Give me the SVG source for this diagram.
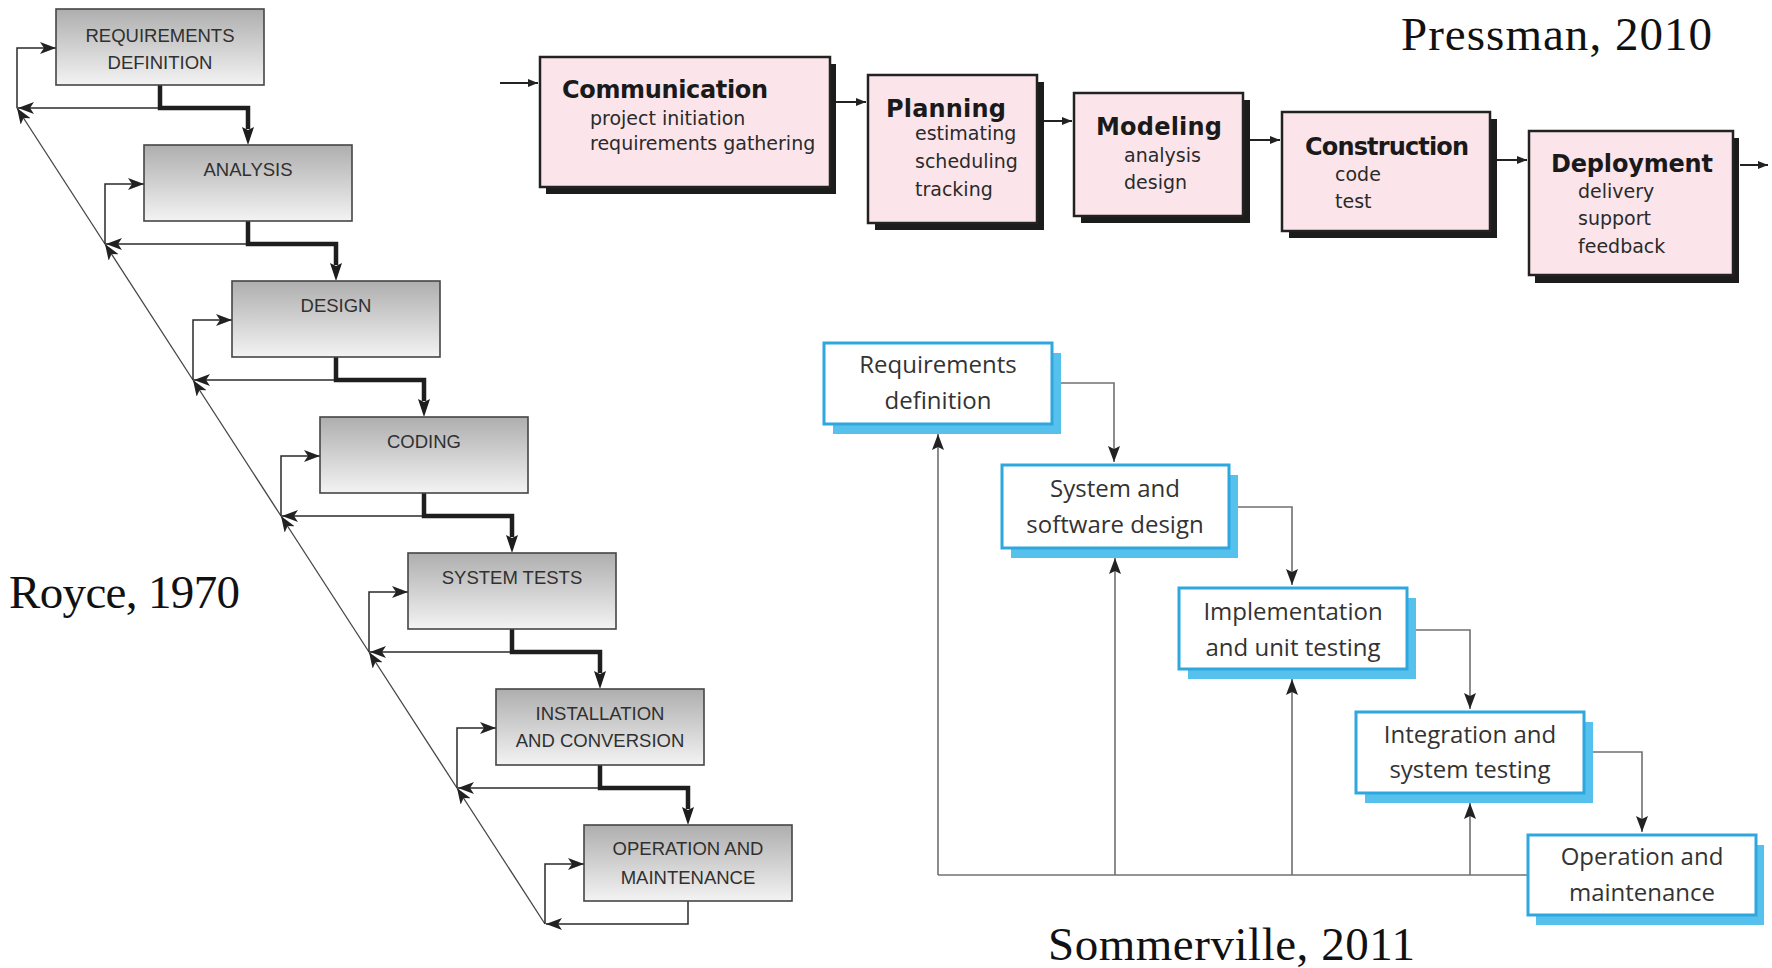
<svg xmlns="http://www.w3.org/2000/svg" width="1772" height="968" viewBox="0 0 1772 968">
<style>
.rbox{fill:url(#rg);stroke:#454545;stroke-width:1.6}
.rtxt{font-family:"Liberation Sans",Arial,sans-serif;font-size:18.5px;fill:#303030;text-anchor:middle}
.thin{fill:none;stroke:#2a2a2a;stroke-width:1.5}
.diag{fill:none;stroke:#444;stroke-width:1.3}
.thick{fill:none;stroke:#1e1e1e;stroke-width:4.5}
.pbox{fill:#fbe5ea;stroke:#222;stroke-width:2.5}
.pshadow{fill:#1c1c1c}
.ptitle{font-family:"DejaVu Sans",sans-serif;font-weight:bold;font-size:24px;fill:#1a1a1a}
.psub{font-family:"DejaVu Sans",sans-serif;font-size:19px;fill:#2a2a2a}
.pline{fill:none;stroke:#222;stroke-width:2}
.sbox{fill:#fff;stroke:#2ea7de;stroke-width:3}
.sshadow{fill:#56c1ec}
.stxt{font-family:"Open Sans",sans-serif;font-size:24px;fill:#333;text-anchor:middle}
.sline{fill:none;stroke:#707070;stroke-width:1.6}
.cap{font-family:"Liberation Serif","Times New Roman",serif;font-size:47px;fill:#111}
</style>
<defs>
<linearGradient id="rg" x1="0" y1="0" x2="0" y2="1">
<stop offset="0" stop-color="#aeaeae"/>
<stop offset="1" stop-color="#f3f3f3"/>
</linearGradient>
<marker id="ra" markerUnits="userSpaceOnUse" markerWidth="16" markerHeight="12" refX="16" refY="6" orient="auto">
<path d="M0,0 L16,6 L0,12 L4,6 z" fill="#222"/>
</marker>
<marker id="rt" markerUnits="userSpaceOnUse" markerWidth="18" markerHeight="12" refX="2" refY="6" orient="auto">
<path d="M0,0 L18,6 L0,12 L3,6 z" fill="#1e1e1e"/>
</marker>
<marker id="pa" markerUnits="userSpaceOnUse" markerWidth="10" markerHeight="8" refX="10" refY="4" orient="auto">
<path d="M0,0 L10,4 L0,8 z" fill="#222"/>
</marker>
<marker id="sa" markerUnits="userSpaceOnUse" markerWidth="16" markerHeight="12" refX="16" refY="6" orient="auto">
<path d="M0,0 L16,6 L0,12 L3,6 z" fill="#222"/>
</marker>
</defs>

<!-- Royce -->
<g id="royce-connectors">
<path class="diag" d="M105,244 L17,108" marker-end="url(#ra)"/>
<path class="diag" d="M193,380 L105,244" marker-end="url(#ra)"/>
<path class="diag" d="M281,516 L193,380" marker-end="url(#ra)"/>
<path class="diag" d="M369,652 L281,516" marker-end="url(#ra)"/>
<path class="diag" d="M457,788 L369,652" marker-end="url(#ra)"/>
<path class="diag" d="M545,924 L457,788" marker-end="url(#ra)"/>

<path class="thin" d="M17,108 V48 H56" marker-end="url(#ra)"/>
<path class="thin" d="M105,244 V184 H144" marker-end="url(#ra)"/>
<path class="thin" d="M193,380 V320 H232" marker-end="url(#ra)"/>
<path class="thin" d="M281,516 V456 H320" marker-end="url(#ra)"/>
<path class="thin" d="M369,652 V592 H408" marker-end="url(#ra)"/>
<path class="thin" d="M457,788 V728 H496" marker-end="url(#ra)"/>
<path class="thin" d="M545,924 V864 H584" marker-end="url(#ra)"/>

<path class="thin" d="M160,108 H18" marker-end="url(#ra)"/>
<path class="thin" d="M248,244 H106" marker-end="url(#ra)"/>
<path class="thin" d="M336,380 H194" marker-end="url(#ra)"/>
<path class="thin" d="M424,516 H282" marker-end="url(#ra)"/>
<path class="thin" d="M512,652 H370" marker-end="url(#ra)"/>
<path class="thin" d="M600,788 H458" marker-end="url(#ra)"/>
<path class="thin" d="M688,901 V924 H546" marker-end="url(#ra)"/>

<path class="thick" d="M160,85 V108 H248 V129" marker-end="url(#rt)"/>
<path class="thick" d="M248,221 V244 H336 V265" marker-end="url(#rt)"/>
<path class="thick" d="M336,357 V380 H424 V401" marker-end="url(#rt)"/>
<path class="thick" d="M424,493 V516 H512 V537" marker-end="url(#rt)"/>
<path class="thick" d="M512,629 V652 H600 V673" marker-end="url(#rt)"/>
<path class="thick" d="M600,765 V788 H688 V809" marker-end="url(#rt)"/>
</g>

<g id="r-requirements"><rect class="rbox" x="56" y="9" width="208" height="76"/><text class="rtxt" x="160" y="42">REQUIREMENTS</text><text class="rtxt" x="160" y="69">DEFINITION</text></g>
<g id="r-analysis"><rect class="rbox" x="144" y="145" width="208" height="76"/><text class="rtxt" x="248" y="176">ANALYSIS</text></g>
<g id="r-design"><rect class="rbox" x="232" y="281" width="208" height="76"/><text class="rtxt" x="336" y="312">DESIGN</text></g>
<g id="r-coding"><rect class="rbox" x="320" y="417" width="208" height="76"/><text class="rtxt" x="424" y="448">CODING</text></g>
<g id="r-systemtests"><rect class="rbox" x="408" y="553" width="208" height="76"/><text class="rtxt" x="512" y="584">SYSTEM TESTS</text></g>
<g id="r-installation"><rect class="rbox" x="496" y="689" width="208" height="76"/><text class="rtxt" x="600" y="720">INSTALLATION</text><text class="rtxt" x="600" y="747">AND CONVERSION</text></g>
<g id="r-operation"><rect class="rbox" x="584" y="825" width="208" height="76"/><text class="rtxt" x="688" y="855">OPERATION AND</text><text class="rtxt" x="688" y="884">MAINTENANCE</text></g>

<!-- Pressman -->
<g id="pressman-connectors">
<path class="pline" d="M500,83 H538" marker-end="url(#pa)"/>
<path class="pline" d="M836,102 H866" marker-end="url(#pa)"/>
<path class="pline" d="M1044,121 H1072" marker-end="url(#pa)"/>
<path class="pline" d="M1250,140 H1280" marker-end="url(#pa)"/>
<path class="pline" d="M1497,160 H1527" marker-end="url(#pa)"/>
<path class="pline" d="M1740,165 H1768" marker-end="url(#pa)"/>
</g>
<g id="p-communication">
<rect class="pshadow" x="546" y="64" width="290" height="130"/>
<rect class="pbox" x="540" y="57" width="290" height="130"/>
<text class="ptitle" x="562" y="98" textLength="206">Communication</text>
<text class="psub" x="590" y="125">project initiation</text>
<text class="psub" x="590" y="150">requirements gathering</text>
</g>
<g id="p-planning">
<rect class="pshadow" x="875" y="82" width="169" height="148"/>
<rect class="pbox" x="868" y="75" width="169" height="148"/>
<text class="ptitle" x="886" y="117" textLength="120">Planning</text>
<text class="psub" x="915" y="140">estimating</text>
<text class="psub" x="915" y="168">scheduling</text>
<text class="psub" x="915" y="196">tracking</text>
</g>
<g id="p-modeling">
<rect class="pshadow" x="1081" y="100" width="169" height="123"/>
<rect class="pbox" x="1074" y="93" width="169" height="123"/>
<text class="ptitle" x="1096" y="135" textLength="126">Modeling</text>
<text class="psub" x="1124" y="162">analysis</text>
<text class="psub" x="1124" y="189">design</text>
</g>
<g id="p-construction">
<rect class="pshadow" x="1289" y="119" width="208" height="119"/>
<rect class="pbox" x="1282" y="112" width="208" height="119"/>
<text class="ptitle" x="1305" y="155" textLength="164">Construction</text>
<text class="psub" x="1335" y="181">code</text>
<text class="psub" x="1335" y="208">test</text>
</g>
<g id="p-deployment">
<rect class="pshadow" x="1535" y="138" width="204" height="145"/>
<rect class="pbox" x="1529" y="131" width="204" height="144"/>
<text class="ptitle" x="1551" y="172" textLength="162">Deployment</text>
<text class="psub" x="1578" y="198">delivery</text>
<text class="psub" x="1578" y="225">support</text>
<text class="psub" x="1578" y="253">feedback</text>
</g>

<!-- Sommerville -->
<g id="sommerville-connectors">
<path class="sline" d="M1052,383 H1114 V462" marker-end="url(#sa)"/>
<path class="sline" d="M1229,507 H1292 V585" marker-end="url(#sa)"/>
<path class="sline" d="M1407,630 H1470 V709" marker-end="url(#sa)"/>
<path class="sline" d="M1584,752 H1642 V832" marker-end="url(#sa)"/>
<path class="sline" d="M1528,875 H938"/>
<path class="sline" d="M938,875 V434" marker-end="url(#sa)"/>
<path class="sline" d="M1115,875 V558" marker-end="url(#sa)"/>
<path class="sline" d="M1292,875 V679" marker-end="url(#sa)"/>
<path class="sline" d="M1470,875 V803" marker-end="url(#sa)"/>
</g>
<g id="s-requirements">
<rect class="sshadow" x="833" y="353" width="228" height="81"/>
<rect class="sbox" x="824" y="343" width="228" height="81"/>
<text class="stxt" x="938" y="373">Requirements</text>
<text class="stxt" x="938" y="409">definition</text>
</g>
<g id="s-design">
<rect class="sshadow" x="1011" y="475" width="227" height="83"/>
<rect class="sbox" x="1002" y="465" width="227" height="83"/>
<text class="stxt" x="1115" y="497">System and</text>
<text class="stxt" x="1115" y="533">software design</text>
</g>
<g id="s-implementation">
<rect class="sshadow" x="1188" y="598" width="228" height="81"/>
<rect class="sbox" x="1179" y="588" width="228" height="81"/>
<text class="stxt" x="1293" y="620">Implementation</text>
<text class="stxt" x="1293" y="656">and unit testing</text>
</g>
<g id="s-integration">
<rect class="sshadow" x="1365" y="722" width="228" height="81"/>
<rect class="sbox" x="1356" y="712" width="228" height="81"/>
<text class="stxt" x="1470" y="743">Integration and</text>
<text class="stxt" x="1470" y="778">system testing</text>
</g>
<g id="s-operation">
<rect class="sshadow" x="1536" y="845" width="228" height="80"/>
<rect class="sbox" x="1528" y="835" width="228" height="80"/>
<text class="stxt" x="1642" y="865">Operation and</text>
<text class="stxt" x="1642" y="901">maintenance</text>
</g>

<g id="captions">
<text class="cap" x="9" y="608" textLength="231">Royce, 1970</text>
<text class="cap" x="1401" y="50" textLength="311">Pressman, 2010</text>
<text class="cap" x="1048" y="960" textLength="367">Sommerville, 2011</text>
</g>
</svg>
